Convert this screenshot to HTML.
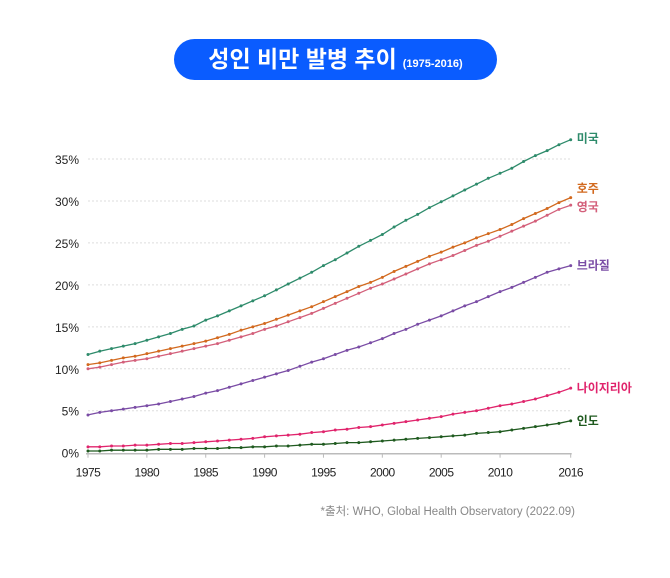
<!DOCTYPE html>
<html><head><meta charset="utf-8">
<style>
body{margin:0;background:#fff;width:670px;height:578px;overflow:hidden;font-family:"Liberation Sans","Noto Sans CJK KR",sans-serif;}
#title{position:absolute;left:174px;top:39px;width:323px;height:41px;border-radius:21px;background:#0a5cff;color:#fff;text-align:center;line-height:41px;font-weight:bold;font-size:23px;font-family:"Liberation Sans","Noto Sans CJK KR",sans-serif;}
#title small{font-size:11px;font-weight:bold;margin-left:6px;}
</style></head><body>
<div id="title">성인 비만 발병 추이<small>(1975-2016)</small></div>
<svg id="chart" width="670" height="578" style="position:absolute;left:0;top:0"></svg>
<script>
const years=[];for(let y=1975;y<=2016;y++)years.push(y);
const seriesNames=["미국","호주","영국","브라질","나이지리아","인도"];
const usVals=[11.7,12.1,12.4,12.7,13.0,13.4,13.8,14.2,14.7,15.1,15.8,16.3,16.9,17.5,18.1,18.7,19.4,20.1,20.8,21.5,22.3,23.0,23.8,24.6,25.3,26.0,26.9,27.7,28.4,29.2,29.9,30.6,31.3,32.0,32.7,33.3,33.9,34.7,35.4,36.0,36.7,37.3];
const auVals=[10.5,10.7,11.0,11.3,11.5,11.8,12.1,12.4,12.7,13.0,13.3,13.7,14.1,14.6,15.0,15.4,15.9,16.4,16.9,17.4,18.0,18.6,19.2,19.8,20.3,20.9,21.6,22.2,22.8,23.4,23.9,24.5,25.0,25.6,26.1,26.6,27.2,27.9,28.5,29.1,29.8,30.4];
const ukVals=[10.0,10.2,10.5,10.8,11.0,11.2,11.5,11.8,12.1,12.4,12.7,13.0,13.4,13.8,14.2,14.7,15.1,15.6,16.1,16.6,17.2,17.8,18.4,19.0,19.6,20.1,20.7,21.3,21.9,22.5,23.0,23.5,24.1,24.7,25.2,25.8,26.4,27.0,27.6,28.3,29.0,29.5];
const brVals=[4.5,4.8,5.0,5.2,5.4,5.6,5.8,6.1,6.4,6.7,7.1,7.4,7.8,8.2,8.6,9.0,9.4,9.8,10.3,10.8,11.2,11.7,12.2,12.6,13.1,13.6,14.2,14.7,15.3,15.8,16.3,16.9,17.5,18.0,18.6,19.2,19.7,20.3,20.9,21.5,21.9,22.3];
const ngVals=[0.7,0.7,0.8,0.8,0.9,0.9,1.0,1.1,1.1,1.2,1.3,1.4,1.5,1.6,1.7,1.9,2.0,2.1,2.2,2.4,2.5,2.7,2.8,3.0,3.1,3.3,3.5,3.7,3.9,4.1,4.3,4.6,4.8,5.0,5.3,5.6,5.8,6.1,6.4,6.8,7.2,7.7];
const inVals=[0.2,0.2,0.3,0.3,0.3,0.3,0.4,0.4,0.4,0.5,0.5,0.5,0.6,0.6,0.7,0.7,0.8,0.8,0.9,1.0,1.0,1.1,1.2,1.2,1.3,1.4,1.5,1.6,1.7,1.8,1.9,2.0,2.1,2.3,2.4,2.5,2.7,2.9,3.1,3.3,3.5,3.8];
const yTicks=[0,5,10,15,20,25,30,35];
const xTicks=[1975,1980,1985,1990,1995,2000,2005,2010,2016];
const allSeries=[usVals,auVals,ukVals,brVals,ngVals,inVals];
const colors=["#2e8b6b","#d2691e","#d35f7a","#7a4ca5","#e0246c","#1f5a1f"];
const labelDy=[-1,-9,2,0,0,0];
const slugs=["us","australia","uk","brazil","nigeria","india"];
const NS="http://www.w3.org/2000/svg";
const svg=document.getElementById('chart');
const x0=88,x1=570.7,y0=452.7,y35=159;
const xs=v=>x0+(v-1975)*(x1-x0)/41;
const ys=v=>y0-v*(y0-y35)/35;
function mk(t,a){const e=document.createElementNS(NS,t);for(const k in a)e.setAttribute(k,a[k]);svg.appendChild(e);return e;}
yTicks.forEach(t=>{
  if(t>0){const g=mk('line',{x1:x0,x2:x1,y1:ys(t),y2:ys(t),stroke:'#ddd','stroke-dasharray':'2,2','stroke-width':1});
  
  }
  const l=mk('text',{x:79,y:ys(t)+5,'text-anchor':'end','font-size':12,fill:'#222','font-family':'Liberation Sans, sans-serif'});
  l.textContent=t+'%';
  
  
});
const ax=mk('line',{x1:x0-2,x2:x1+1,y1:y0+1,y2:y0+1,stroke:'#bbb','stroke-width':1.5});


xTicks.forEach(t=>{
  const tk=mk('line',{x1:xs(t),x2:xs(t),y1:y0+1,y2:y0+5,stroke:'#bbb'});
  
  
  const l=mk('text',{x:xs(t),y:y0+24,'text-anchor':'middle','font-size':12,fill:'#222','font-family':'Liberation Sans, sans-serif','letter-spacing':'-0.5'});
  l.textContent=t;
  
  
});
allSeries.forEach((vals,si)=>{
  const pts=vals.map((v,i)=>xs(years[i]).toFixed(1)+','+ys(v).toFixed(1)).join(' ');
  const pl=mk('polyline',{points:pts,fill:'none',stroke:colors[si],'stroke-width':1.3});
  
  
  vals.forEach((v,i)=>{
    const c=mk('circle',{cx:xs(years[i]),cy:ys(v),r:1.5,fill:colors[si]});
    
    
  });
  const last=vals[vals.length-1];
  const lb=mk('text',{x:x1+6,y:ys(last)+4+labelDy[si],'font-size':12,'font-weight':'bold',fill:colors[si],'font-family':'Liberation Sans, Noto Sans CJK KR, sans-serif'});
  lb.textContent=seriesNames[si];
  
  
});
const src=mk('text',{x:575,y:515,'text-anchor':'end','font-size':11.5,fill:'#888','font-family':'Liberation Sans, Noto Sans CJK KR, sans-serif'});
src.textContent='*출처: WHO, Global Health Observatory (2022.09)';


</script>
</body></html>
